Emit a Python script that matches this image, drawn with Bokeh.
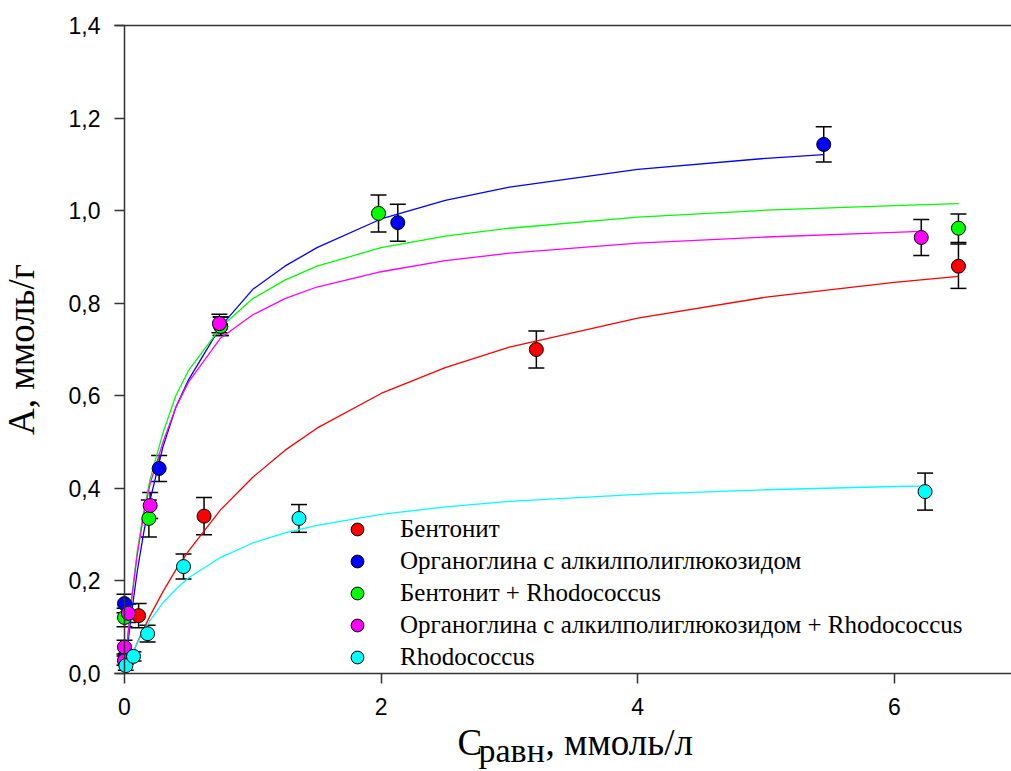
from bokeh.plotting import figure
from bokeh.models import (ColumnDataSource, Whisker, TeeHead, Label,
                          LinearAxis, FixedTicker, Range1d)
from bokeh.embed import file_html
from bokeh.resources import INLINE

# ---- measured adsorption points: C (mmol/L), A (mmol/g), error ----
bent_x = [0.01, 0.11, 0.62, 3.21, 6.50]
bent_y = [0.030, 0.125, 0.340, 0.700, 0.880]
bent_e = [0.010, 0.026, 0.040, 0.040, 0.048]

org_x = [0.00, 0.01, 0.27, 0.75, 2.13, 5.45]
org_y = [0.151, 0.040, 0.443, 0.750, 0.974, 1.143]
org_e = [0.020, 0.010, 0.028, 0.020, 0.040, 0.038]

bentrh_x = [0.00, 0.19, 0.75, 1.98, 6.50]
bentrh_y = [0.121, 0.335, 0.750, 0.994, 0.962]
bentrh_e = [0.020, 0.040, 0.020, 0.040, 0.031]

orgrh_x = [0.00, 0.00, 0.03, 0.20, 0.74, 6.21]
orgrh_y = [0.028, 0.057, 0.130, 0.363, 0.756, 0.942]
orgrh_e = [0.010, 0.015, 0.020, 0.028, 0.020, 0.039]

rh_x = [0.01, 0.07, 0.18, 0.46, 1.36, 6.24]
rh_y = [0.017, 0.037, 0.086, 0.231, 0.335, 0.393]
rh_e = [0.010, 0.010, 0.018, 0.027, 0.030, 0.040]

# ---- isotherm fit curves ----
bent_cx = [0, 0.02, 0.05, 0.1, 0.15, 0.2, 0.3, 0.4, 0.5, 0.75, 1.0, 1.25, 1.5, 2.0, 2.5, 3.0, 4.0, 5.0, 6.0, 6.5]
bent_cy = [0, 0.014, 0.034, 0.067, 0.097, 0.125, 0.177, 0.224, 0.265, 0.354, 0.424, 0.482, 0.530, 0.605, 0.661, 0.705, 0.768, 0.813, 0.845, 0.858]

org_cx = [0, 0.02, 0.05, 0.1, 0.15, 0.2, 0.3, 0.4, 0.5, 0.75, 1.0, 1.25, 1.5, 2.0, 2.5, 3.0, 4.0, 5.0, 5.45]
org_cy = [0, 0.050, 0.120, 0.222, 0.305, 0.375, 0.490, 0.575, 0.635, 0.750, 0.830, 0.880, 0.920, 0.982, 1.022, 1.051, 1.089, 1.113, 1.121]

bentrh_cx = [0, 0.02, 0.05, 0.1, 0.15, 0.2, 0.3, 0.4, 0.5, 0.75, 1.0, 1.25, 1.5, 2.0, 2.5, 3.0, 4.0, 5.0, 6.0, 6.5]
bentrh_cy = [0, 0.064, 0.150, 0.265, 0.352, 0.420, 0.520, 0.600, 0.655, 0.748, 0.810, 0.850, 0.880, 0.920, 0.945, 0.962, 0.986, 1.001, 1.011, 1.015]

orgrh_cx = [0, 0.02, 0.05, 0.1, 0.15, 0.2, 0.3, 0.4, 0.5, 0.75, 1.0, 1.25, 1.5, 2.0, 2.5, 3.0, 4.0, 5.0, 6.0, 6.2]
orgrh_cy = [0, 0.064, 0.148, 0.258, 0.343, 0.410, 0.500, 0.575, 0.630, 0.725, 0.775, 0.810, 0.835, 0.868, 0.892, 0.908, 0.930, 0.943, 0.953, 0.955]

rh_cx = [0, 0.02, 0.05, 0.1, 0.15, 0.2, 0.3, 0.4, 0.5, 0.75, 1.0, 1.25, 1.5, 2.0, 2.5, 3.0, 4.0, 5.0, 6.0, 6.24]
rh_cy = [0, 0.015, 0.036, 0.066, 0.092, 0.115, 0.153, 0.182, 0.207, 0.251, 0.282, 0.304, 0.320, 0.344, 0.360, 0.372, 0.387, 0.397, 0.404, 0.405]

names = ["Бентонит",
         "Органоглина с алкилполиглюкозидом",
         "Бентонит + Rhodococcus",
         "Органоглина с алкилполиглюкозидом + Rhodococcus",
         "Rhodococcus"]
colors = ["#FF0000", "#0000FF", "#00FF00", "#FF00FF", "#00FFFF"]

x_ticks = [0, 2, 4, 6]
x_tick_labels = ["0", "2", "4", "6"]
y_ticks = [0, 0.2, 0.4, 0.6, 0.8, 1.0, 1.2, 1.4]
y_tick_labels = ["0,0", "0,2", "0,4", "0,6", "0,8", "1,0", "1,2", "1,4"]
y_axis_top = 1.4

# ---- layout: the frame fills the canvas, axes are pinned with fixed_location ----
W, H = 1011, 771
X0_PX, Y0_PX = 124, 673          # canvas pixel of the data origin
PX_PER_X, PX_PER_Y = 128.3, 462.86
AXIS_LEFT_PX = 114               # where the horizontal frame lines begin
AXIS_COLOR = "#333333"


def at_x(px):
    return (px - X0_PX) / PX_PER_X


def at_y(py):
    return (Y0_PX - py) / PX_PER_Y


p = figure(width=W, height=H, output_backend="svg", toolbar_location=None,
           x_range=Range1d(at_x(0), at_x(W)), y_range=Range1d(at_y(H), at_y(0)),
           min_border=0, min_border_left=0, min_border_right=0,
           min_border_top=0, min_border_bottom=0)
p.outline_line_color = None
p.grid.visible = False

series = [
    (bent_x, bent_y, bent_e, bent_cx, bent_cy),
    (org_x, org_y, org_e, org_cx, org_cy),
    (bentrh_x, bentrh_y, bentrh_e, bentrh_cx, bentrh_cy),
    (orgrh_x, orgrh_y, orgrh_e, orgrh_cx, orgrh_cy),
    (rh_x, rh_y, rh_e, rh_cx, rh_cy),
]

# fitted curves
for (sx, sy, se, cx, cy), col in zip(series, colors):
    p.line(cx, cy, line_color=col, line_width=1.3)

# error bars and points
for (sx, sy, se, cx, cy), col, name in zip(series, colors, names):
    src = ColumnDataSource(dict(
        x=sx, y=sy,
        lower=[v - e for v, e in zip(sy, se)],
        upper=[v + e for v, e in zip(sy, se)]))
    w = Whisker(base="x", lower="lower", upper="upper", source=src,
                dimension="height", line_color="black", line_width=1.5,
                upper_head=TeeHead(size=16, line_color="black", line_width=1.5),
                lower_head=TeeHead(size=16, line_color="black", line_width=1.5))
    p.add_layout(w)
    p.scatter("x", "y", source=src, size=14, fill_color=col,
              line_color="black", line_width=1, legend_label=name)

x_line_bounds = (at_x(AXIS_LEFT_PX), at_x(W))

# bottom axis at A = 0
xa = p.xaxis[0]
xa.fixed_location = 0
xa.bounds = x_line_bounds
xa.ticker = FixedTicker(ticks=x_ticks)
xa.major_label_overrides = {t: s for t, s in zip(x_ticks, x_tick_labels)}
xa.axis_line_color = AXIS_COLOR
xa.axis_line_width = 1.5
xa.major_tick_line_color = AXIS_COLOR
xa.major_tick_line_width = 1.5
xa.major_tick_out = 10
xa.major_tick_in = 0
xa.minor_tick_line_color = None
xa.major_label_text_font = "Liberation Sans"
xa.major_label_text_font_size = "23px"
xa.major_label_text_color = "#000000"
xa.major_label_standoff = 14

# left axis: ticks and labels only, placed where the frame lines start
ya = p.yaxis[0]
ya.fixed_location = at_x(AXIS_LEFT_PX)
ya.bounds = (0, y_axis_top)
ya.ticker = FixedTicker(ticks=y_ticks)
ya.major_label_overrides = {t: s for t, s in zip(y_ticks, y_tick_labels)}
ya.axis_line_color = None
ya.major_tick_line_color = AXIS_COLOR
ya.major_tick_line_width = 1.5
ya.major_tick_in = 10
ya.major_tick_out = 0
ya.minor_tick_line_color = None
ya.major_label_text_font = "Liberation Sans"
ya.major_label_text_font_size = "23px"
ya.major_label_text_color = "#000000"
ya.major_label_standoff = 14
ya.axis_label = "A, ммоль/г"
ya.axis_label_text_font = "Liberation Serif"
ya.axis_label_text_font_size = "37px"
ya.axis_label_text_font_style = "normal"
ya.axis_label_text_color = "#000000"
ya.axis_label_standoff = 24

# vertical axis line at C = 0
y_rule = LinearAxis(fixed_location=0, bounds=(0, y_axis_top), ticker=FixedTicker(ticks=[]),
                    axis_line_color=AXIS_COLOR, axis_line_width=1.5,
                    major_tick_line_color=None, minor_tick_line_color=None)
p.add_layout(y_rule, "left")

# top frame line
x_rule = LinearAxis(fixed_location=y_axis_top, bounds=x_line_bounds, ticker=FixedTicker(ticks=[]),
                    axis_line_color=AXIS_COLOR, axis_line_width=1.5,
                    major_tick_line_color=None, minor_tick_line_color=None)
p.add_layout(x_rule, "above")

# x-axis title with lowered "равн" index
title_parts = [("C", 457, 742, "37px"),
               ("равн", 478, 750, "34px"),
               (", ммоль/л", 545, 742, "37px")]
for txt, px, py, fs in title_parts:
    p.add_layout(Label(x=at_x(px), y=at_y(py), text=txt,
                       text_font="Liberation Serif", text_font_size=fs,
                       text_color="#000000", text_align="left",
                       text_baseline="alphabetic"))

leg = p.legend[0]
leg.location = (341, H - Y0_PX)
leg.glyph_width = 32
leg.glyph_height = 32
leg.label_height = 32
leg.spacing = 0
leg.padding = 0
leg.margin = 0
leg.label_standoff = 27
leg.label_text_font = "Liberation Serif"
leg.label_text_font_size = "25px"
leg.label_text_color = "#000000"
leg.background_fill_alpha = 0
leg.border_line_color = None

open("out.html", "w").write(file_html(p, INLINE))
